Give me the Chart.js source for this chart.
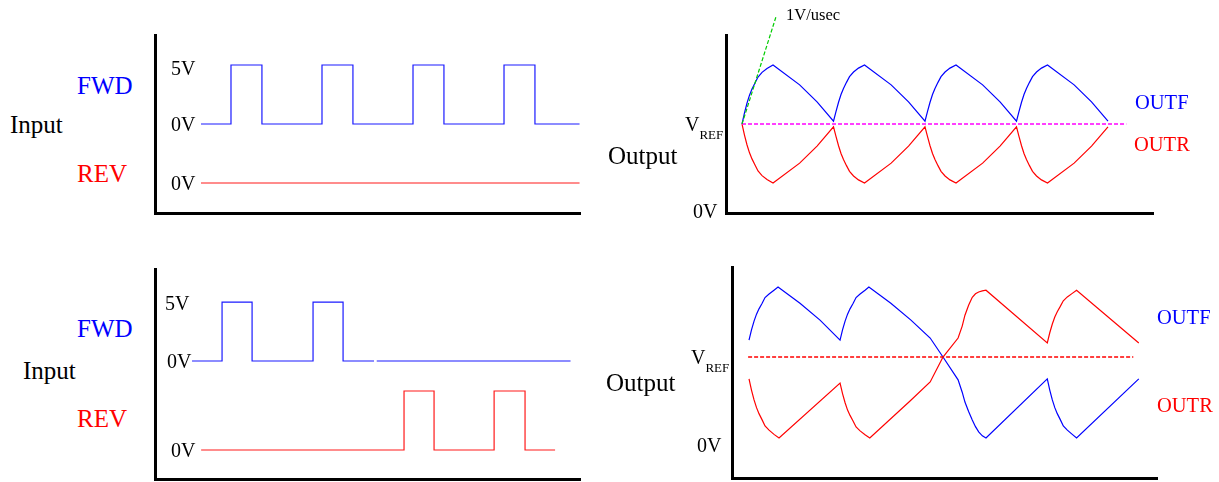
<!DOCTYPE html>
<html lang="en">
<head>
<meta charset="UTF-8">
<title>Input / Output waveforms</title>
<script src="https://cdn.jsdelivr.net/npm/chart.js@4.4.0/dist/chart.umd.min.js"></script>
<style>
  body {
    margin: 0;
    width: 1219px;
    height: 482px;
    background: #fff;
    position: relative;
    overflow: hidden;
    font-family: 'Liberation Serif', 'Times New Roman', serif;
  }
  .panel { position: absolute; }
  .lbl {
    position: absolute;
    line-height: 1;
    transform: translateY(-50%);
    white-space: nowrap;
    color: #000;
  }
  .blue { color: #0000ff; }
  .red { color: #ff0000; }
  .sub { font-size: 13px; position: relative; top: 8px; }
</style>
</head>
<body>
  <!-- top left: input, FWD only -->
  <canvas id="chartA" class="panel" width="460" height="210" style="left:140px;top:20px"></canvas>
  <div class="lbl" style="left:10px;top:124px;font-size:25px">Input</div>
  <div class="lbl blue" style="left:77px;top:85px;font-size:25px">FWD</div>
  <div class="lbl red" style="left:77px;top:173px;font-size:25px">REV</div>
  <div class="lbl" style="left:171px;top:68px;font-size:20px">5V</div>
  <div class="lbl" style="left:171px;top:124px;font-size:20px">0V</div>
  <div class="lbl" style="left:171px;top:183px;font-size:20px">0V</div>

  <!-- top right: output -->
  <canvas id="chartB" class="panel" width="470" height="225" style="left:700px;top:0px"></canvas>
  <div class="lbl" style="left:786px;top:15px;font-size:16.5px">1V/usec</div>
  <div class="lbl" style="left:685px;top:124px;font-size:20px">V<span class="sub">REF</span></div>
  <div class="lbl" style="left:608px;top:155px;font-size:25px">Output</div>
  <div class="lbl" style="left:693px;top:211px;font-size:20px">0V</div>
  <div class="lbl blue" style="left:1135px;top:102px;font-size:20.5px">OUTF</div>
  <div class="lbl red" style="left:1134px;top:144px;font-size:20.5px">OUTR</div>

  <!-- bottom left: input, FWD then REV -->
  <canvas id="chartC" class="panel" width="460" height="228" style="left:140px;top:254px"></canvas>
  <div class="lbl" style="left:23px;top:370px;font-size:25px">Input</div>
  <div class="lbl blue" style="left:77px;top:328px;font-size:25px">FWD</div>
  <div class="lbl red" style="left:77px;top:418px;font-size:25px">REV</div>
  <div class="lbl" style="left:165px;top:303px;font-size:20px">5V</div>
  <div class="lbl" style="left:167px;top:361px;font-size:20px">0V</div>
  <div class="lbl" style="left:171px;top:450px;font-size:20px">0V</div>

  <!-- bottom right: output -->
  <canvas id="chartD" class="panel" width="465" height="232" style="left:710px;top:250px"></canvas>
  <div class="lbl" style="left:691px;top:357px;font-size:20px">V<span class="sub">REF</span></div>
  <div class="lbl" style="left:606px;top:382px;font-size:25px">Output</div>
  <div class="lbl" style="left:697px;top:445px;font-size:20px">0V</div>
  <div class="lbl blue" style="left:1157px;top:317px;font-size:20.5px">OUTF</div>
  <div class="lbl red" style="left:1157px;top:405px;font-size:20.5px">OUTR</div>

<script>
// time in usec, levels in volts

// top left input
const fwdTimeA = [0, 3.3, 3.3, 6.7, 6.7, 13.3, 13.3, 16.7, 16.7, 23.3, 23.3, 26.7, 26.7, 33.3, 33.3, 36.7, 36.7, 41.6];
const fwdVoltA = [0, 0, 5, 5, 0, 0, 5, 5, 0, 0, 5, 5, 0, 0, 5, 5, 0, 0];
const revTimeA = [0, 41.6];
const revVoltA = [0, 0];

// top right output
const outTimeB = [0, 0.27, 0.55, 0.82, 1.09, 1.42, 1.75, 2.19, 2.73, 3.39, 6.3, 8.2, 10.0,
                  10.27, 10.55, 10.82, 11.09, 11.42, 11.75, 12.19, 12.73, 13.39, 16.3, 18.2, 20.0,
                  20.27, 20.55, 20.82, 21.09, 21.42, 21.75, 22.19, 22.73, 23.39, 26.3, 28.2, 30.0,
                  30.27, 30.55, 30.82, 31.09, 31.42, 31.75, 32.19, 32.73, 33.39, 36.3, 38.2, 40.0];
const outfB = [2.50, 2.81, 3.09, 3.31, 3.48, 3.65, 3.82, 3.95, 4.06, 4.16, 3.60, 3.12, 2.58,
               2.85, 3.11, 3.33, 3.50, 3.67, 3.83, 3.96, 4.07, 4.16, 3.60, 3.12, 2.58,
               2.85, 3.11, 3.33, 3.50, 3.67, 3.83, 3.96, 4.07, 4.16, 3.60, 3.12, 2.58,
               2.85, 3.11, 3.33, 3.50, 3.67, 3.83, 3.96, 4.07, 4.16, 3.60, 3.12, 2.58];
const outrB = [2.50, 2.19, 1.91, 1.69, 1.52, 1.35, 1.18, 1.05, 0.94, 0.84, 1.40, 1.88, 2.42,
               2.15, 1.89, 1.67, 1.50, 1.33, 1.17, 1.04, 0.93, 0.84, 1.40, 1.88, 2.42,
               2.15, 1.89, 1.67, 1.50, 1.33, 1.17, 1.04, 0.93, 0.84, 1.40, 1.88, 2.42,
               2.15, 1.89, 1.67, 1.50, 1.33, 1.17, 1.04, 0.93, 0.84, 1.40, 1.88, 2.42];
const vrefTimeB = [0, 42.0];
const vrefB = [2.5, 2.5];
const slopeTimeB = [0, 3.7];   // 1V/usec guide
const slopeVoltB = [2.5, 5.5];

// bottom left input
const fwdTimeC = [0, 3.3, 3.3, 6.6, 6.6, 13.3, 13.3, 16.6, 16.6, 20.0, 20.15, 20.3, 41.6];
const fwdVoltC = [0, 0, 5, 5, 0, 0, 5, 5, 0, 0, null, 0, 0];
const revTimeC = [1.0, 23.3, 23.3, 26.6, 26.6, 33.2, 33.2, 36.6, 36.6, 39.9];
const revVoltC = [0, 0, 5, 5, 0, 0, 5, 5, 0, 0];

// bottom right output (FWD pulses, then REV pulses)
const outfTimeD = [0, 0.27, 0.55, 0.82, 1.09, 1.42, 1.75, 2.19, 2.73, 3.17, 5.57, 7.76, 9.95,
                   10.22, 10.5, 10.77, 11.04, 11.37, 11.7, 12.14, 12.68, 13.1, 15.5, 17.7, 19.8, 21.2,
                   22.85, 23.3, 23.6, 24.0, 24.4, 24.75, 25.1, 25.5, 25.9,
                   32.6, 32.87, 33.15, 33.42, 33.69, 34.02, 34.35, 34.79, 35.33, 35.8, 42.6];
const outfD = [2.98, 3.27, 3.52, 3.72, 3.87, 4.02, 4.19, 4.29, 4.40, 4.49, 4.03, 3.55, 2.98,
               3.27, 3.52, 3.72, 3.87, 4.02, 4.19, 4.29, 4.40, 4.49, 4.03, 3.55, 3.04, 2.50,
               1.85, 1.50, 1.22, 0.95, 0.71, 0.52, 0.37, 0.26, 0.20,
               1.88, 1.56, 1.28, 1.06, 0.89, 0.72, 0.54, 0.42, 0.30, 0.20, 1.88];
const outrTimeD = [0, 0.27, 0.55, 0.82, 1.09, 1.42, 1.75, 2.19, 2.73, 3.28, 9.95,
                   10.22, 10.5, 10.77, 11.04, 11.37, 11.7, 12.14, 12.68, 13.2, 17.6, 19.8, 21.2,
                   22.85, 23.3, 23.6, 24.0, 24.4, 24.75, 25.1, 25.5, 25.9,
                   32.6, 32.87, 33.15, 33.42, 33.69, 34.02, 34.35, 34.79, 35.33, 35.8, 42.6];
const outrD = [1.88, 1.56, 1.28, 1.06, 0.89, 0.72, 0.54, 0.42, 0.30, 0.20, 1.76,
               1.46, 1.20, 0.99, 0.84, 0.68, 0.51, 0.40, 0.29, 0.20, 1.25, 1.79, 2.50,
               3.04, 3.38, 3.69, 3.97, 4.20, 4.30, 4.35, 4.38, 4.40,
               2.90, 3.19, 3.44, 3.64, 3.79, 3.94, 4.10, 4.21, 4.31, 4.40, 2.90];
const vrefTimeD = [-0.1, 42.0];
const vrefD = [2.5, 2.5];

function pts(xs, ys) {
  return xs.map((x, i) => ({ x: x, y: ys[i] }));
}

// axis with only the black border line, no ticks / grid
function axis(min, max, visible) {
  return {
    type: 'linear',
    min: min,
    max: max,
    display: visible,
    grid: { display: false, drawTicks: false },
    ticks: { display: false },
    border: { display: true, color: '#000', width: 3 }
  };
}

function trace(data, color, yAxisID, extra) {
  return Object.assign({
    data: data,
    borderColor: color,
    borderWidth: 1.2,
    pointRadius: 0,
    tension: 0,
    fill: false,
    yAxisID: yAxisID || 'y'
  }, extra || {});
}

function makeChart(id, datasets, scales, padding) {
  return new Chart(document.getElementById(id), {
    type: 'line',
    data: { datasets: datasets },
    options: {
      responsive: false,
      animation: false,
      events: [],
      layout: { padding: padding },
      plugins: { legend: { display: false }, tooltip: { enabled: false } },
      scales: scales
    }
  });
}

makeChart('chartA', [
  trace(pts(fwdTimeA, fwdVoltA), '#1a1aff', 'y'),
  trace(pts(revTimeA, revVoltA), '#ff1a1a', 'yRev')
], {
  x: axis(-5.05, 41.65, true),
  y: axis(-7.54, 7.54, true),
  yRev: axis(-2.54, 12.54, false)
}, { left: 15, top: 15, right: 20, bottom: 17 });

makeChart('chartB', [
  trace(pts(slopeTimeB, slopeVoltB), '#00cc00', 'y', { borderDash: [4, 2], clip: false }),
  trace(pts(vrefTimeB, vrefB), '#ff00ff', 'y', { borderDash: [4, 2], borderWidth: 1.5 }),
  trace(pts(outTimeB, outfB), '#0000ff'),
  trace(pts(outTimeB, outrB), '#ff0000')
], {
  x: axis(-1.75, 44.92, true),
  y: axis(0, 5, true)
}, { left: 26, top: 35, right: 17, bottom: 12 });

makeChart('chartC', [
  trace(pts(fwdTimeC, fwdVoltC), '#1a1aff', 'y'),
  trace(pts(revTimeC, revVoltC), '#ff1a1a', 'yRev')
], {
  x: axis(-4.07, 42.64, true),
  y: axis(-10.0, 7.8, true),
  yRev: axis(-2.46, 15.34, false)
}, { left: 15, top: 15, right: 20, bottom: 3 });

makeChart('chartD', [
  trace(pts(vrefTimeD, vrefD), '#ff0000', 'y', { borderDash: [4, 2], borderWidth: 1.5 }),
  trace(pts(outfTimeD, outfD), '#0000ff'),
  trace(pts(outrTimeD, outrD), '#ff0000')
], {
  x: axis(-1.86, 44.59, true),
  y: axis(-0.94, 5.06, true)
}, { left: 22, top: 17, right: 18, bottom: 4 });
</script>
</body>
</html>
